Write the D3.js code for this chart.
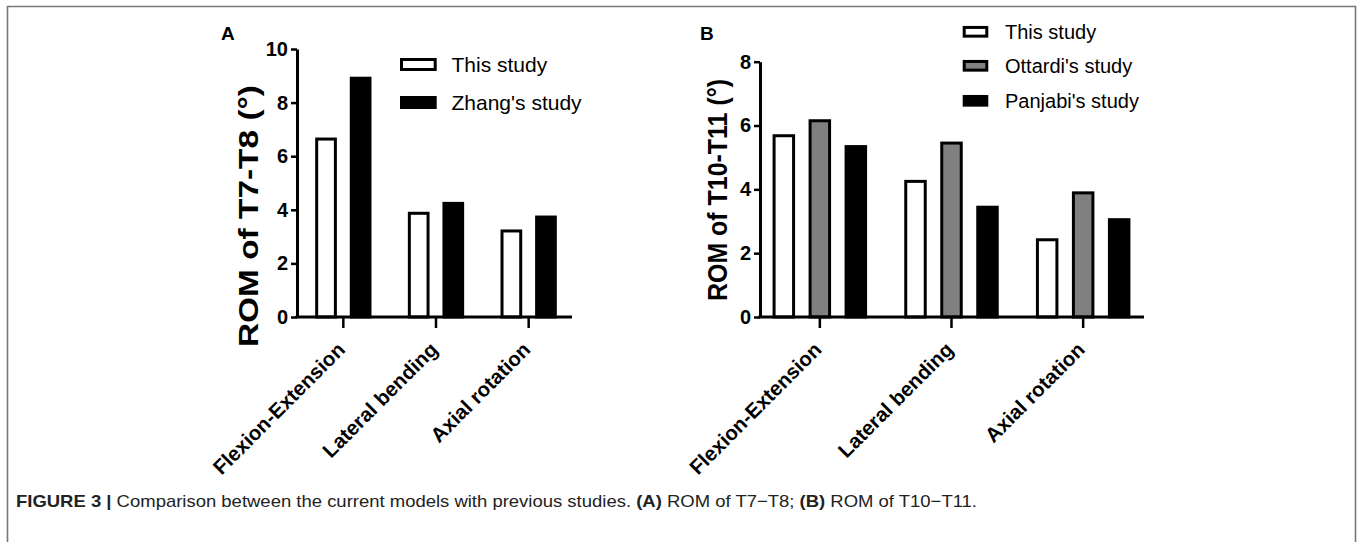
<!DOCTYPE html>
<html>
<head>
<meta charset="utf-8">
<script src="https://cdn.jsdelivr.net/npm/d3@7/dist/d3.min.js"></script>
<style>
  html, body { margin: 0; padding: 0; background: #fff; }
  svg { display: block; }
  text { font-family: "Liberation Sans", Arial, Helvetica, sans-serif; }
</style>
</head>
<body>
<svg id="fig" width="1357" height="542"></svg>
<script>
// ---------------- data ----------------
const categories = ["Flexion-Extension", "Lateral bending", "Axial rotation"];

const seriesA = ["This study", "Zhang's study"];
const thisStudyA = [6.64, 3.87, 3.21];
const zhangStudyA = [8.91, 4.24, 3.73];
const ticksA = [0, 2, 4, 6, 8, 10];

const seriesB = ["This study", "Ottardi's study", "Panjabi's study"];
const thisStudyB = [5.68, 4.25, 2.42];
const ottardiStudyB = [6.15, 5.45, 3.89];
const panjabiStudyB = [5.34, 3.44, 3.05];
const ticksB = [0, 2, 4, 6, 8];

const fills = { "This study": "#ffffff", "Zhang's study": "#000000",
                "Ottardi's study": "#808080", "Panjabi's study": "#000000" };

const svg = d3.select("#fig");

// frame
svg.append("path")
  .attr("d", "M7.5,542 V6.5 H1355.5 V542")
  .attr("fill", "none").attr("stroke", "#777").attr("stroke-width", 1.6);

function panel(opts) {
  const g = svg.append("g");
  const y = d3.scaleLinear().domain([0, opts.yMax]).range([opts.y0, opts.yTop]);
  const x = d3.scaleBand().domain(categories).range(opts.xRange);
  const inner = d3.scalePoint().domain(opts.series).range(opts.innerRange);

  // bars
  opts.series.forEach((s, si) => {
    const vals = opts.values[si];
    g.selectAll(null).data(categories).enter().append("rect")
      .attr("x", (c) => x(c) + x.bandwidth() / 2 + inner(s) - opts.barW / 2)
      .attr("y", (c, i) => y(vals[i]))
      .attr("width", opts.barW)
      .attr("height", (c, i) => y(0) - y(vals[i]))
      .attr("fill", fills[s])
      .attr("stroke", "#000").attr("stroke-width", 3);
  });

  // y axis
  const ya = g.append("g").attr("transform", `translate(${opts.x0},0)`)
    .call(d3.axisLeft(y).tickValues(opts.ticks).tickSize(6).tickPadding(3).tickSizeOuter(0));
  ya.select(".domain").attr("stroke-width", 3).attr("stroke", "#000");
  ya.selectAll(".tick line").attr("stroke-width", 2.5).attr("stroke", "#000");
  ya.selectAll(".tick text").attr("font-size", 20).attr("font-weight", "bold")
    .attr("font-family", "'Liberation Sans', Arial, sans-serif").attr("fill", "#000");

  // x axis
  const xa = g.append("g").attr("transform", `translate(0,${opts.y0})`)
    .call(d3.axisBottom(x).tickSize(11).tickSizeOuter(0));
  xa.select(".domain").attr("d", `M${opts.x0 - 1.5},0H${opts.xEnd}`)
    .attr("stroke-width", 3).attr("stroke", "#000");
  xa.selectAll(".tick line").attr("stroke-width", 2.5).attr("stroke", "#000");
  xa.selectAll(".tick text")
    .attr("font-size", 20.5).attr("font-weight", "bold")
    .attr("font-family", "'Liberation Sans', Arial, sans-serif").attr("fill", "#000")
    .attr("text-anchor", "end").attr("x", 0).attr("y", 0).attr("dy", 0)
    .attr("transform", "translate(3,34) rotate(-45)");

  // y title
  g.append("text")
    .attr("transform", `translate(${opts.titleX},${opts.titleY}) rotate(-90)`)
    .attr("text-anchor", "middle").attr("font-weight", "bold")
    .attr("font-size", 28)
    .attr("textLength", opts.titleLen).attr("lengthAdjust", "spacingAndGlyphs")
    .text(opts.title);

  // panel letter
  g.append("text").attr("x", opts.letterX).attr("y", 40)
    .attr("font-weight", "bold").attr("font-size", 19).text(opts.letter);

  // legend
  opts.series.forEach((s, i) => {
    const cy = opts.legY[i];
    g.append("rect")
      .attr("x", opts.legX).attr("y", cy - opts.legH / 2)
      .attr("width", opts.legW).attr("height", opts.legH)
      .attr("fill", fills[s]).attr("stroke", "#000").attr("stroke-width", 3);
    g.append("text").attr("x", opts.legTextX).attr("y", cy).attr("dy", "0.36em")
      .attr("font-size", opts.legFont).text(s);
  });
}

panel({
  series: seriesA, values: [thisStudyA, zhangStudyA], ticks: ticksA, yMax: 10,
  y0: 317, yTop: 49, x0: 297, xEnd: 572, xRange: [297, 575],
  innerRange: [-17.3, 17.3], barW: 18.7,
  title: "ROM of T7-T8 (°)", titleX: 258, titleY: 216, titleLen: 262,
  letter: "A", letterX: 221,
  legX: 401.5, legY: [64.5, 102.5], legW: 33.7, legH: 10, legTextX: 451.5, legFont: 21
});

panel({
  series: seriesB, values: [thisStudyB, ottardiStudyB, panjabiStudyB], ticks: ticksB, yMax: 8,
  y0: 317, yTop: 61.7, x0: 760, xEnd: 1144, xRange: [754, 1149],
  innerRange: [-36, 36], barW: 19.5,
  title: "ROM of T10-T11 (°)", titleX: 727, titleY: 190, titleLen: 222,
  letter: "B", letterX: 700,
  legX: 964.2, legY: [31.8, 65.8, 100.8], legW: 22.6, legH: 8.7, legTextX: 1005, legFont: 20
});

// caption
const cap = svg.append("text").attr("x", 16).attr("y", 507).attr("font-size", 17)
  .attr("textLength", 961).attr("lengthAdjust", "spacingAndGlyphs").attr("fill", "#222");
cap.append("tspan").attr("font-weight", "bold").text("FIGURE 3 | ");
cap.append("tspan").text("Comparison between the current models with previous studies. ");
cap.append("tspan").attr("font-weight", "bold").text("(A)");
cap.append("tspan").text(" ROM of T7\u2212T8; ");
cap.append("tspan").attr("font-weight", "bold").text("(B)");
cap.append("tspan").text(" ROM of T10\u2212T11.");
</script>
</body>
</html>
